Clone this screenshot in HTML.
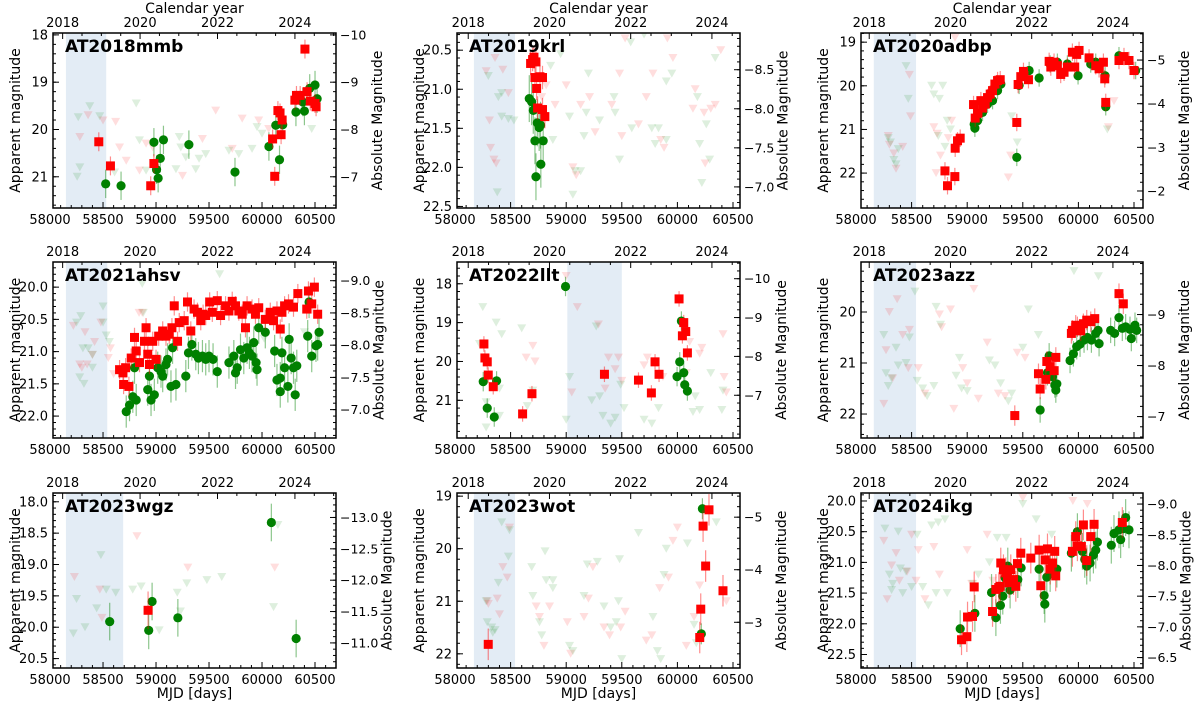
<!DOCTYPE html>
<html><head><meta charset="utf-8"><style>
html,body{margin:0;padding:0;background:#fff;}
svg{display:block;font-family:"DejaVu Sans","Liberation Sans",sans-serif;}
</style></head><body>
<svg id="chart" width="1200" height="705" viewBox="0 0 1200 705" xmlns="http://www.w3.org/2000/svg"></svg>
<script>
// ---------- data: [MJD, magnitude] ----------
const p1_r=[[58460,20.26],[58570,20.77],[58950,21.19],[58980,20.72],[60100,20.2],[60120,20.99],[60150,19.6],[60170,19.65],[60180,20.11],[60190,19.8],[60310,19.38],[60325,19.28],[60360,19.28],[60405,18.3],[60425,19.2],[60455,19.4],[60500,19.45],[60510,19.52]];
const p1_g=[[58525,21.15],[58670,21.19],[58980,20.27],[59005,20.85],[59020,21.03],[59040,20.61],[59070,20.22],[59310,20.32],[59745,20.9],[60065,20.36],[60130,19.91],[60165,20.64],[60195,19.9],[60320,19.63],[60385,19.42],[60400,19.61],[60450,19.13],[60500,19.06],[60520,19.35]];
const p1_gu=[[58266,19.74],[58469,19.72],[58375,19.51],[58813,19.45],[58281,20.8],[58256,21.0],[58609,20.91],[58844,20.23],[58906,20.87],[59219,20.16],[59234,20.38],[59281,20.59],[59406,20.62],[59469,20.52],[59781,20.52],[59906,20.41],[59953,19.95],[60000,20.09],[59688,20.45],[60469,19.99],[59188,20.84],[59375,20.84]];
const p1_ru=[[58281,20.16],[58359,19.7],[58619,19.84],[58656,20.38],[58719,20.66],[58906,20.3],[58969,20.38],[58844,20.87],[59250,20.98],[59438,20.2],[59563,19.6],[59719,20.41],[59813,19.77],[59969,19.81],[60063,19.99],[58500,19.81]];

const p2_r=[[58680,20.67],[58698,20.62],[58710,20.59],[58728,20.65],[58719,20.85],[58764,20.84],[58734,20.99],[58787,20.85],[58743,21.24],[58787,21.26],[58808,21.35]];
const p2_g=[[58668,21.12],[58689,21.16],[58704,21.27],[58740,21.43],[58757,21.49],[58769,21.46],[58719,21.66],[58793,21.66],[58772,21.96],[58728,22.12]];
const p2_gu=[[58300,20.83],[58390,21.1],[58420,21.35],[58480,21.38],[58530,21.4],[58380,22.32],[58420,21.05],[58860,20.7],[58950,20.55],[59080,22.05],[59060,22.35],[59130,22.05],[59180,21.3],[59200,20.8],[59300,21.4],[59430,21.1],[59440,21.3],[59480,21.9],[59580,20.4],[59700,20.3],[59770,21.5],[59800,21.7],[59830,21.5],[59900,20.9],[59950,20.8],[60180,21.1],[60200,21.7],[60220,22.2],[60260,21.45],[60290,21.9],[60340,20.6],[58880,21.65],[59030,21.35],[59160,21.6],[59590,21.5],[59900,21.65]];
const p2_ru=[[58280,20.77],[58310,21.4],[58360,20.6],[58430,20.75],[58480,21.05],[58320,21.75],[58350,21.9],[58370,21.95],[58780,21.1],[58820,20.95],[58900,21.2],[59060,22.0],[59090,22.1],[59210,21.1],[59260,21.55],[59410,21.2],[59480,20.8],[59500,21.6],[59530,20.35],[59650,21.45],[59720,21.1],[59780,20.8],[59850,21.65],[59880,21.75],[59960,20.6],[59910,20.35],[60140,21.25],[60160,21.0],[60240,21.3],[60300,21.25],[60340,21.2],[60250,21.95],[60390,20.5],[59000,20.95],[59130,21.2]];

const p3_r=[[58800,21.95],[58823,22.29],[58889,22.08],[58892,21.43],[58913,21.26],[58937,21.2],[59057,20.43],[59072,20.74],[59093,20.63],[59123,20.34],[59138,20.51],[59162,20.42],[59183,20.27],[59207,20.19],[59228,20.11],[59249,19.96],[59273,19.88],[59297,19.86],[59446,20.84],[59458,19.97],[59482,19.79],[59506,19.67],[59551,19.86],[59737,19.44],[59781,19.46],[59811,19.54],[59871,19.69],[59901,19.57],[59946,19.23],[59985,19.28],[60006,19.19],[59967,19.57],[60096,19.36],[60156,19.54],[60186,19.61],[60225,19.46],[60237,19.84],[60246,20.38],[60365,19.42],[60410,19.33],[60455,19.42],[60500,19.65],[59841,19.74],[59752,19.57]];
const p3_g=[[59063,20.88],[59069,20.97],[59093,20.8],[59138,20.61],[59183,20.42],[59228,20.34],[59273,20.11],[59303,19.96],[59446,21.64],[59467,19.99],[59557,19.65],[59647,19.82],[59746,19.5],[59811,19.46],[59901,19.5],[59997,19.77],[60111,19.5],[60156,19.46],[60240,19.77],[60246,20.48],[60365,19.31],[60515,19.65]];
const p3_gu=[[58290,21.2],[58310,21.3],[58360,21.8],[58340,21.7],[58380,21.45],[58450,19.55],[58470,20.3],[58680,20.0],[58700,20.2],[58750,20.3],[58780,20.0],[58740,21.15],[58820,20.8],[58850,21.0],[59400,20.7],[59450,21.3],[60260,21.0],[58800,21.4]];
const p3_ru=[[58290,21.15],[58300,21.35],[58340,21.55],[58360,21.9],[58420,21.4],[58480,19.75],[58490,20.7],[58700,20.95],[58730,21.1],[58760,21.6],[58830,21.2],[58860,20.8],[59370,22.1],[59390,21.6],[60270,20.95],[60320,20.35],[58720,22.0],[58890,18.9]];

const p4_r=[[58656,21.28],[58688,21.33],[58713,21.25],[58694,21.51],[58744,21.54],[58766,21.1],[58797,20.78],[58813,20.99],[58844,21.17],[58906,20.63],[58891,20.84],[58922,21.04],[58938,21.2],[58969,20.84],[59000,21.12],[59025,20.76],[59063,20.68],[59094,20.76],[59125,20.73],[59150,20.63],[59172,20.29],[59203,20.84],[59219,20.55],[59266,20.52],[59297,20.23],[59328,20.68],[59359,20.34],[59391,20.39],[59422,20.52],[59444,20.42],[59469,20.44],[59506,20.23],[59531,20.39],[59578,20.21],[59609,20.44],[59656,20.29],[59688,20.37],[59719,20.22],[59750,20.29],[59781,20.37],[59813,20.42],[59844,20.63],[59859,20.29],[59906,20.34],[59938,20.42],[59969,20.32],[60031,20.5],[60078,20.39],[60109,20.52],[60141,20.37],[60172,20.65],[60213,20.29],[60250,20.26],[60297,20.31],[60338,20.1],[60422,20.34],[60438,20.06],[60494,20.0],[60525,20.42],[60469,20.26],[60188,20.39]];
const p4_g=[[58719,21.93],[58750,21.83],[58781,21.7],[58813,21.75],[58797,21.25],[58922,21.59],[58938,21.38],[58953,21.75],[58984,21.67],[59016,21.25],[59047,21.31],[59063,21.38],[59094,21.2],[59109,21.12],[59141,21.54],[59188,21.51],[59156,20.94],[59281,21.38],[59306,21.02],[59338,20.89],[59375,21.04],[59400,21.1],[59438,21.07],[59469,21.12],[59500,21.07],[59538,21.12],[59578,21.31],[59688,21.17],[59734,21.07],[59750,21.33],[59766,21.25],[59797,20.97],[59828,21.1],[59859,20.94],[59881,21.02],[59906,21.07],[59922,20.86],[59944,21.17],[59953,21.28],[59969,20.63],[60031,20.7],[60119,20.99],[60141,21.44],[60172,21.41],[60172,21.62],[60188,21.02],[60213,21.25],[60244,21.54],[60256,20.81],[60275,21.1],[60297,21.25],[60313,21.67],[60328,21.22],[60431,20.76],[60444,20.23],[60469,21.07],[60509,20.91],[60525,20.89],[60538,20.7]];
const p4_gu=[[58250,20.55],[58290,20.45],[58310,20.95],[58360,20.95],[58400,21.25],[58320,21.5],[58280,21.4],[58500,20.55],[58530,20.75],[58560,20.85],[58870,19.95],[58880,20.4],[59600,19.8],[60020,20.8],[60400,20.7],[58400,21.05],[58500,20.3]];
const p4_ru=[[58220,20.6],[58280,21.2],[58300,21.25],[58330,20.7],[58350,21.2],[58400,21.05],[58420,20.85],[58480,20.55],[58550,21.1],[58570,20.95],[58600,21.35],[58840,20.4],[58870,20.4]];

const p5_r=[[58260,19.55],[58269,19.91],[58290,20.01],[58299,20.35],[58344,20.65],[58608,21.35],[58692,20.83],[59344,20.33],[59650,20.48],[59766,20.81],[59799,20.01],[59835,20.33],[60015,18.39],[60057,19.0],[60045,19.34],[60075,19.23],[60090,19.78]];
const p5_g=[[58254,20.52],[58290,21.2],[58353,21.43],[58374,20.5],[58994,18.07],[59997,20.39],[60021,20.01],[60036,18.96],[60057,20.29],[60066,20.6],[60090,20.76]];
const p5_gu=[[58220,19.55],[58250,18.6],[58280,21.05],[58280,21.7],[58400,21.4],[58400,20.7],[58420,19.3],[58370,19.0],[58600,19.15],[58650,21.15],[58700,20.75],[59000,21.5],[59030,20.4],[59230,21.0],[59270,19.1],[59300,20.9],[59330,21.4],[59400,21.6],[59440,21.45],[59490,20.6],[59520,21.2],[59700,21.5],[59770,21.6],[59830,21.2],[60140,21.3],[60160,20.9],[60200,21.25],[60400,21.25],[60410,20.75],[60300,20.3]];
const p5_ru=[[58640,19.9],[58700,19.6],[58720,20.0],[59000,17.8],[59050,20.8],[59100,18.6],[59290,19.05],[59350,20.7],[59380,19.9],[59440,20.2],[59470,19.9],[59500,20.5],[59700,20.1],[59730,19.9],[59870,20.4],[60080,20.3],[60110,19.5],[60200,19.8],[60220,19.65],[60410,19.3],[60420,20.4],[60440,20.8]];

const p6_r=[[59428,22.03],[59641,21.21],[59656,21.51],[59707,21.32],[59716,20.97],[59746,21.07],[59782,21.15],[59797,20.89],[59937,20.42],[59946,20.36],[59976,20.26],[60021,20.37],[60045,20.23],[60075,20.16],[60111,20.19],[60147,20.13],[60365,19.64],[60404,19.84],[59991,20.29]];
const p6_g=[[59656,21.92],[59722,21.19],[59737,20.86],[59767,21.27],[59788,21.43],[59797,21.53],[59806,21.41],[59925,20.95],[59955,20.82],[59985,20.68],[60015,20.63],[60051,20.55],[60081,20.5],[60117,20.55],[60156,20.42],[60177,20.36],[60186,20.62],[60290,20.36],[60326,20.42],[60365,20.11],[60395,20.32],[60425,20.29],[60464,20.34],[60476,20.52],[60509,20.26],[60524,20.36]];
const p6_gu=[[58250,20.45],[58270,21.2],[58290,21.45],[58320,21.3],[58360,20.7],[58380,21.05],[58450,21.0],[58480,20.5],[58530,19.6],[58550,21.35],[58600,21.5],[58640,21.65],[58700,21.45],[58720,19.9],[58760,20.25],[58900,21.25],[58950,21.5],[59000,21.55],[59200,20.95],[59250,21.05],[59300,21.4],[59370,21.75],[59400,21.6],[59550,19.95],[59640,20.45],[59960,19.2],[60180,19.3],[59500,20.7],[58930,20.9]];
const p6_ru=[[58250,21.8],[58270,20.75],[58300,20.0],[58330,21.3],[58370,19.75],[58420,20.45],[58470,21.1],[58480,20.35],[58560,21.1],[58620,21.6],[58750,20.05],[58770,20.3],[58850,19.95],[58960,21.1],[59060,19.55],[59000,21.4],[59100,21.7],[59180,20.6],[59280,21.6],[59340,21.65],[59450,20.8],[59520,20.9],[58880,21.9]];

const p7_r=[[58925,19.73]];
const p7_g=[[58563,19.91],[58931,20.05],[58963,19.59],[59206,19.85],[60088,18.33],[60322,20.18]];
const p7_gu=[[58220,20.1],[58250,19.55],[58330,20.0],[58440,19.7],[58480,18.85],[58530,19.4],[58620,19.45],[58780,19.4],[58860,19.35],[59030,20.05],[59200,19.45],[59230,19.75],[59290,19.3],[59480,19.25],[59620,19.2],[60150,18.37],[60109,19.68]];
const p7_ru=[[58230,19.2],[58470,19.4],[58490,19.85],[58820,18.55],[59300,19.05],[60120,19.05]];

const p8_r=[[58299,21.82],[60201,21.69],[60210,21.15],[60231,19.57],[60284,19.26],[60254,20.33],[60410,20.8]];
const p8_g=[[60225,19.24],[60215,21.62]];
const p8_gu=[[58280,21.0],[58290,21.4],[58330,21.5],[58340,21.6],[58360,21.55],[58390,20.65],[58420,19.5],[58480,20.15],[58490,19.65],[58690,20.35],[58700,20.9],[58760,21.4],[58780,21.65],[58810,20.05],[58820,20.6],[58880,20.6],[58880,20.75],[59030,21.85],[59060,21.95],[59160,20.9],[59190,20.3],[59280,20.25],[59340,21.1],[59400,21.5],[59450,21.4],[59480,20.2],[59470,21.0],[59500,22.1],[59650,19.7],[59780,21.3],[59820,21.95],[59850,22.1],[59880,20.5],[59900,20.0],[60090,19.9],[60150,21.45],[60170,21.8],[60350,19.5]];
const p8_ru=[[58290,21.0],[58300,21.05],[58380,20.95],[58400,21.25],[58430,20.35],[58470,20.55],[58490,19.6],[58730,21.1],[58760,21.3],[58800,21.85],[58850,21.1],[59010,21.4],[59040,22.0],[59160,21.3],[59200,20.95],[59240,20.35],[59340,21.5],[59390,21.65],[59490,21.5],[59530,21.2],[59720,21.75],[59770,21.65],[59840,20.75],[59920,20.55],[59960,19.85],[60000,19.6],[60080,21.85],[60200,20.7],[60440,21.0],[60150,21.3]];

const p9_r=[[58949,22.26],[58997,22.21],[59003,21.89],[59048,21.88],[59063,21.4],[59228,21.8],[59258,21.44],[59284,21.41],[59296,21.39],[59302,21.01],[59326,21.12],[59347,21.17],[59362,21.25],[59377,21.33],[59392,21.12],[59416,21.28],[59437,21.39],[59452,21.02],[59482,20.85],[59572,20.93],[59647,20.8],[59662,21.38],[59701,20.96],[59722,20.78],[59746,21.11],[59767,21.01],[59787,20.82],[59796,21.22],[59946,20.82],[59976,20.58],[59991,20.73],[60027,20.74],[60045,20.39],[60075,20.97],[60111,20.58],[60141,20.38],[60395,20.35]];
const p9_g=[[58937,22.08],[59069,21.83],[59219,21.49],[59258,21.9],[59299,21.7],[59320,21.55],[59341,21.25],[59365,21.06],[59386,21.45],[59455,21.28],[59485,21.09],[59647,21.11],[59692,21.54],[59698,21.68],[59716,21.24],[59746,21.18],[59806,21.11],[59937,20.85],[59991,20.5],[60036,20.82],[60057,20.95],[60075,21.06],[60105,21.01],[60135,20.88],[60156,20.8],[60171,20.67],[60296,20.72],[60320,20.53],[60365,20.47],[60380,20.63],[60404,20.45],[60425,20.27],[60455,20.47]];
const p9_gu=[[58260,20.45],[58300,21.2],[58320,21.45],[58330,21.35],[58380,20.5],[58400,21.1],[58420,21.5],[58450,21.15],[58550,20.55],[58600,21.4],[58650,21.7],[58680,20.4],[58720,21.5],[58740,20.35],[58800,20.3],[58820,21.5],[59050,21.35],[59100,21.2],[59200,21.0],[59270,20.6],[59350,20.6],[59500,20.05],[59620,20.3],[59760,20.55],[58500,21.4]];
const p9_ru=[[58250,20.65],[58280,21.6],[58320,21.05],[58360,20.85],[58390,21.3],[58460,21.15],[58500,20.55],[58540,21.3],[58560,20.8],[58620,21.6],[58700,20.75],[58750,21.2],[59180,20.55],[59230,21.3],[59040,21.35],[59500,19.95],[60080,20.05],[59950,20.0],[59000,20.8]];

const panelNames=["AT2018mmb","AT2019krl","AT2020adbp","AT2021ahsv","AT2022llt","AT2023azz","AT2023wgz","AT2023wot","AT2024ikg"];
const errR=[0.2,0.15,0.2,0.15,0.2,0.2,0.3,0.3,0.25];
const errG=[0.3,0.3,0.2,0.25,0.25,0.25,0.3,0.2,0.3];
const mjdTicks=[58000,58500,59000,59500,60000,60500];
const yearTicks=[2018,2020,2022,2024];

// ---------- layout / axis settings ----------
const colBox=[{l:53,r:336,xmin:58028,xmax:60698},{l:457,r:740,xmin:58018,xmax:60563},{l:861,r:1143,xmin:58045,xmax:60581}];
const rowBox=[{t:33,b:208},{t:262,b:438},{t:493,b:668}];
const cfg=[
 {r:p1_r,g:p1_g,ru:p1_ru,gu:p1_gu,ylim:[17.96,21.66],off:28.0,lt:[18,19,20,21],ld:0,rt:[-10,-9,-8,-7],rd:0,shade:[58150,58530]},
 {r:p2_r,g:p2_g,ru:p2_ru,gu:p2_gu,ylim:[20.28,22.52],off:29.25,lt:[20.5,21,21.5,22,22.5],ld:1,rt:[-8.5,-8,-7.5,-7],rd:1,shade:[58170,58540]},
 {r:p3_r,g:p3_g,ru:p3_ru,gu:p3_gu,ylim:[18.79,22.8],off:24.41,lt:[19,20,21,22],ld:0,rt:[-5,-4,-3,-2],rd:0,shade:[58160,58540]},
 {r:p4_r,g:p4_g,ru:p4_ru,gu:p4_gu,ylim:[19.61,22.34],off:28.9,lt:[20,20.5,21,21.5,22],ld:1,rt:[-9,-8.5,-8,-7.5,-7],rd:1,shade:[58150,58540]},
 {r:p5_r,g:p5_g,ru:p5_ru,gu:p5_gu,ylim:[17.44,21.97],off:27.87,lt:[18,19,20,21],ld:0,rt:[-10,-9,-8,-7],rd:0,shade:[59010,59500]},
 {r:p6_r,g:p6_g,ru:p6_ru,gu:p6_gu,ylim:[19.02,22.47],off:29.05,lt:[20,21,22],ld:0,rt:[-9,-8,-7],rd:0,shade:[58160,58540]},
 {r:p7_r,g:p7_g,ru:p7_ru,gu:p7_gu,ylim:[17.86,20.65],off:31.25,lt:[18,18.5,19,19.5,20,20.5],ld:1,rt:[-13,-12.5,-12,-11.5,-11],rd:1,shade:[58150,58690]},
 {r:p8_r,g:p8_g,ru:p8_ru,gu:p8_gu,ylim:[18.94,22.27],off:24.4,lt:[19,20,21,22],ld:0,rt:[-5,-4,-3],rd:0,shade:[58170,58540]},
 {r:p9_r,g:p9_g,ru:p9_ru,gu:p9_gu,ylim:[19.87,22.72],off:29.05,lt:[20,20.5,21,21.5,22,22.5],ld:1,rt:[-9,-8.5,-8,-7.5,-7,-6.5],rd:1,shade:[58160,58540]}
];

const NS="http://www.w3.org/2000/svg";
const svg=document.getElementById('chart');
function mk(tag,attrs,parent){const e=document.createElementNS(NS,tag);for(const k in attrs)e.setAttribute(k,attrs[k]);(parent||svg).appendChild(e);return e;}
function txt(s,attrs,parent){const e=mk('text',attrs,parent);e.textContent=s;return e;}
function fmt(v,d){let s=Math.abs(v).toFixed(d);return (v<0?'\u2212':'')+s;}
function yearToMJD(y){return 58119+(y-2018)*365.25;}

cfg.forEach((c,i)=>{
  const col=colBox[i%3], row=rowBox[Math.floor(i/3)];
  const L=col.l,R=col.r,T=row.t,B=row.b;
  const X=m=>L+(m-col.xmin)/(col.xmax-col.xmin)*(R-L);
  const Y=v=>T+(v-c.ylim[0])/(c.ylim[1]-c.ylim[0])*(B-T);
  const g=mk('g',{});
  
  
  const cp=mk('clipPath',{id:'cp'+i},g);mk('rect',{x:L,y:T,width:R-L,height:B-T},cp);
  const plot=mk('g',{'clip-path':'url(#cp'+i+')'},g);
  const sh=mk('rect',{x:X(c.shade[0]),y:T,width:X(c.shade[1])-X(c.shade[0]),height:B-T,fill:'#e3ecf5'},plot);
  
  
  const tri=(arr,color,name)=>arr.forEach(p=>{const x=X(p[0]),y=Y(p[1]);
    const t=mk('polygon',{points:`${x-4.5},${y-4} ${x+4.5},${y-4} ${x},${y+4}`,fill:color,'fill-opacity':0.13},plot);
    
    });
  tri(c.ru,'#ff0000','upper-limit-r');
  tri(c.gu,'#008000','upper-limit-g');
  const det=(arr,color,err,name,sq)=>arr.forEach(p=>{const x=X(p[0]),y=Y(p[1]);
    mk('line',{x1:x,x2:x,y1:Y(p[1]-err),y2:Y(p[1]+err),stroke:color,'stroke-opacity':0.45,'stroke-width':1.2},plot);
    let m; if(sq){m=mk('rect',{x:x-4.5,y:y-4.5,width:9,height:9,fill:color},plot);} else {m=mk('circle',{cx:x,cy:y,r:4.6,fill:color},plot);}
    
    });
  det(c.g,'#008000',errG[i],'detection-g',false);
  det(c.r,'#ff0000',errR[i],'detection-r',true);
  const fr=mk('rect',{x:L,y:T,width:R-L,height:B-T,fill:'none',stroke:'#000','stroke-width':1.5},g);
  
  
  for(let m=58000;m<=60600;m+=100){const x=X(m);if(x<L||x>R)continue;const len=(m%500===0)?6:3;
    mk('line',{x1:x,x2:x,y1:B,y2:B-len,stroke:'#000','stroke-width':1},g);}
  mjdTicks.forEach(m=>{const tl=txt(String(m),{x:X(m),y:B+16,'font-size':13,'text-anchor':'middle',fill:'#000'},g);
    
    });
  for(let yr=2018;yr<=2025;yr+=0.5){const x=X(yearToMJD(yr));if(x<L||x>R)continue;const len=(yr%2===0)?6:3;
    mk('line',{x1:x,x2:x,y1:T,y2:T+len,stroke:'#000','stroke-width':1},g);}
  yearTicks.forEach(yr=>{const tl=txt(String(yr),{x:X(yearToMJD(yr)),y:T-6,'font-size':13,'text-anchor':'middle',fill:'#000'},g);
    
    });
  const step=c.lt[1]-c.lt[0], mstep=step/5;
  for(let v=Math.ceil(c.ylim[0]/mstep)*mstep;v<=c.ylim[1];v+=mstep){mk('line',{x1:L,x2:L+3,y1:Y(v),y2:Y(v),stroke:'#000','stroke-width':1},g);}
  c.lt.forEach(v=>{mk('line',{x1:L,x2:L+6,y1:Y(v),y2:Y(v),stroke:'#000','stroke-width':1},g);
    const tl=txt(fmt(v,c.ld),{x:L-5,y:Y(v)+4.5,'font-size':13,'text-anchor':'end',fill:'#000'},g);
    
    });
  const rstep=c.rt[1]-c.rt[0], rmstep=rstep/5;
  const amin=c.ylim[0]-c.off, amax=c.ylim[1]-c.off;
  for(let a=Math.ceil(amin/rmstep)*rmstep;a<=amax;a+=rmstep){const y=Y(a+c.off);mk('line',{x1:R,x2:R-3,y1:y,y2:y,stroke:'#000','stroke-width':1},g);}
  let maxW=0;
  c.rt.forEach(a=>{const y=Y(a+c.off);mk('line',{x1:R,x2:R-6,y1:y,y2:y,stroke:'#000','stroke-width':1},g);
    const tl=txt(fmt(a,c.rd),{x:R+4,y:y+4.5,'font-size':12.5,'text-anchor':'start',fill:'#000'},g);
    
    
    try{maxW=Math.max(maxW,tl.getComputedTextLength());}catch(e){}});
  const cy=(T+B)/2;
  const yl=txt('Apparent magnitude',{x:0,y:0,'font-size':14,'text-anchor':'middle',transform:`translate(${L-33},${cy}) rotate(-90)`,fill:'#000'},g);
  
  
  const rx=Math.max(R+46,R+4+maxW+13);
  const rl=txt('Absolute Magnitude',{x:0,y:0,'font-size':14,'text-anchor':'middle',transform:`translate(${rx},${cy}) rotate(-90)`,fill:'#000'},g);
  
  
  const tt=txt(panelNames[i],{x:L+12,y:T+19,'font-size':17,'font-weight':'bold',fill:'#000'},g);
  
  
  if(i<3){const ct=txt('Calendar year',{x:(L+R)/2,y:13,'font-size':14,'text-anchor':'middle',fill:'#000'},g);
    
    }
  if(i>=6){const xt=txt('MJD [days]',{x:(L+R)/2,y:698,'font-size':14,'text-anchor':'middle',fill:'#000'},g);
    
    }
});
</script>
</body></html>
